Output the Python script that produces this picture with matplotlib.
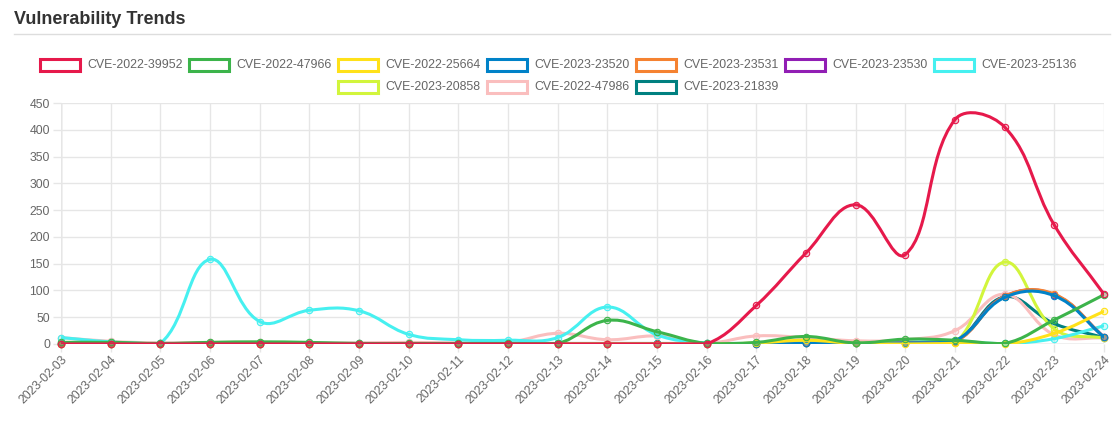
import numpy as np
import matplotlib
matplotlib.use("Agg")
import matplotlib.pyplot as plt
from matplotlib.path import Path
from matplotlib.patches import PathPatch, Rectangle
from matplotlib.lines import Line2D

plt.rcParams['font.family'] = ['Liberation Sans', 'DejaVu Sans']

dates = ['2023-02-03', '2023-02-04', '2023-02-05', '2023-02-06', '2023-02-07',
         '2023-02-08', '2023-02-09', '2023-02-10', '2023-02-11', '2023-02-12',
         '2023-02-13', '2023-02-14', '2023-02-15', '2023-02-16', '2023-02-17',
         '2023-02-18', '2023-02-19', '2023-02-20', '2023-02-21', '2023-02-22',
         '2023-02-23', '2023-02-24']

cve_names = ['CVE-2022-39952', 'CVE-2022-47966', 'CVE-2022-25664', 'CVE-2023-23520',
             'CVE-2023-23531', 'CVE-2023-23530', 'CVE-2023-25136', 'CVE-2023-20858',
             'CVE-2022-47986', 'CVE-2023-21839']
colors = ['#e6194b', '#3cb44b', '#ffe119', '#0082c8', '#f58231', '#911eb4',
          '#46f0f0', '#d2f53c', '#fabebe', '#008080']

cve_2022_39952 = [0, 0, 0, 0, 0, 0, 0, 0, 0, 0, 0, 0, 0, 0, 72, 170, 260, 167, 419, 405, 222, 93]
cve_2022_47966 = [3, 3, 1, 3, 4, 3, 1, 1, 1, 1, 1, 44, 23, 1, 3, 14, 2, 9, 7, 1, 45, 92]
cve_2022_25664 = [0, 0, 0, 0, 0, 0, 0, 0, 0, 0, 0, 0, 0, 0, 2, 7, 1, 0, 1, 0, 20, 61]
cve_2023_23520 = [0, 0, 0, 0, 0, 0, 0, 0, 0, 0, 0, 0, 0, 0, 0, 1, 1, 2, 6, 87, 90, 13]
cve_2023_23531 = [0, 0, 0, 0, 0, 0, 0, 0, 0, 0, 0, 0, 0, 0, 0, 1, 1, 2, 4, 89, 93, 13]
cve_2023_23530 = [0, 0, 0, 0, 0, 0, 0, 0, 0, 0, 0, 0, 0, 0, 0, 1, 1, 2, 5, 89, 92, 13]
cve_2023_25136 = [12, 4, 1, 158, 42, 63, 62, 18, 8, 7, 12, 69, 17, 2, 1, 1, 1, 3, 5, 1, 10, 34]
cve_2023_20858 = [0, 0, 0, 0, 0, 0, 0, 0, 0, 0, 0, 0, 0, 0, 1, 2, 2, 2, 2, 153, 28, 11]
cve_2022_47986 = [12, 5, 2, 3, 3, 2, 2, 3, 2, 3, 20, 8, 15, 2, 15, 12, 6, 8, 25, 93, 17, 11]
cve_2023_21839 = [1, 1, 1, 1, 1, 1, 1, 1, 1, 1, 1, 1, 1, 1, 1, 2, 2, 3, 5, 88, 38, 12]

series = [cve_2022_39952, cve_2022_47966, cve_2022_25664, cve_2023_23520, cve_2023_23531,
          cve_2023_23530, cve_2023_25136, cve_2023_20858, cve_2022_47986, cve_2023_21839]

W, H = 1118, 428
fig = plt.figure(figsize=(W / 100, H / 100), dpi=100)

# plot area in pixels
left, right, top, bottom = 61, 1104, 103, 344
ax = fig.add_axes([left / W, 1 - bottom / H, (right - left) / W, (bottom - top) / H])
ymax = 450
ax.set_xlim(0, len(dates) - 1)
ax.set_ylim(0, ymax)

grid_c = '#e6e6e6'
zero_c = '#c4c4c4'
for s in ax.spines.values():
    s.set_visible(False)
ax.set_yticks(np.arange(0, ymax + 1, 50))
ax.set_xticks(range(len(dates)))
ax.set_xticklabels(dates, rotation=45, ha='right', rotation_mode='anchor')
ax.tick_params(axis='both', colors=grid_c, labelcolor='#666666', labelsize=8.8,
               length=6, width=1)
ax.tick_params(axis='x', pad=1)
ax.tick_params(axis='y', pad=2)
ax.grid(True, color=grid_c, linewidth=1)
ax.axvline(0, color=zero_c, lw=1, zorder=0.5)
ax.axhline(0, color=zero_c, lw=1, zorder=0.5)
ax.set_axisbelow(True)


def smooth_path(xs, ys, tension=0.4):
    # chart.js style bezier with control points computed in pixel space
    pts = ax.transData.transform(np.column_stack([xs, ys]))
    x0, y0 = ax.transData.transform((0, 0))
    x1, y1 = ax.transData.transform((len(dates) - 1, ymax))
    n = len(pts)
    cp_prev = pts.copy()
    cp_next = pts.copy()
    for i in range(n):
        p = pts[max(i - 1, 0)]
        c = pts[i]
        nx = pts[min(i + 1, n - 1)]
        d01 = np.hypot(*(c - p))
        d12 = np.hypot(*(nx - c))
        tot = d01 + d12
        s01 = d01 / tot if tot else 0
        s12 = d12 / tot if tot else 0
        cp_prev[i] = c - tension * s01 * (nx - p)
        cp_next[i] = c + tension * s12 * (nx - p)
    for arr in (cp_prev, cp_next):
        arr[:, 0] = np.clip(arr[:, 0], x0, x1)
        arr[:, 1] = np.clip(arr[:, 1], y0, y1)
    verts = [pts[0]]
    codes = [Path.MOVETO]
    for i in range(1, n):
        verts += [cp_next[i - 1], cp_prev[i], pts[i]]
        codes += [Path.CURVE4] * 3
    inv = ax.transData.inverted()
    return Path(inv.transform(np.array(verts)), codes)


x = np.arange(len(dates))
for i, (vals, col) in enumerate(zip(series, colors)):
    z = 20 - i
    path = smooth_path(x, np.array(vals, dtype=float))
    ax.add_patch(PathPatch(path, facecolor='none', edgecolor=col, lw=2.2,
                           zorder=z, capstyle='round', joinstyle='round'))
    ax.plot(x, vals, linestyle='none', marker='o', markersize=4.6,
            markerfacecolor=matplotlib.colors.to_rgba(col, 0.25),
            markeredgecolor=col, markeredgewidth=0.8, zorder=z + 0.1, clip_on=False)

# title and rule
fig.text(14 / W, 1 - 19 / H, 'Vulnerability Trends', fontsize=13, fontweight='bold',
         color='#333333', va='center', ha='left')
fig.add_artist(Line2D([14 / W, 1110 / W], [1 - 34 / H, 1 - 34 / H], color='#dddddd', lw=1))

# legend, two centred rows like chart.js
item_w = 149
rows = [list(range(0, 7)), list(range(7, 10))]
row_y = [65, 87]
centre = 561.5
for row, ry in zip(rows, row_y):
    start = centre - len(row) * item_w / 2
    for k, idx in enumerate(row):
        bx = start + k * item_w
        fig.add_artist(Rectangle((bx / W, 1 - (ry + 6) / H), 40 / W, 12 / H,
                                 transform=fig.transFigure, facecolor='white',
                                 edgecolor=colors[idx], lw=2.2))
        fig.text((bx + 47) / W, 1 - ry / H, cve_names[idx], fontsize=8.9,
                 color='#666666', va='center', ha='left')

fig.savefig('out.png', dpi=100)
